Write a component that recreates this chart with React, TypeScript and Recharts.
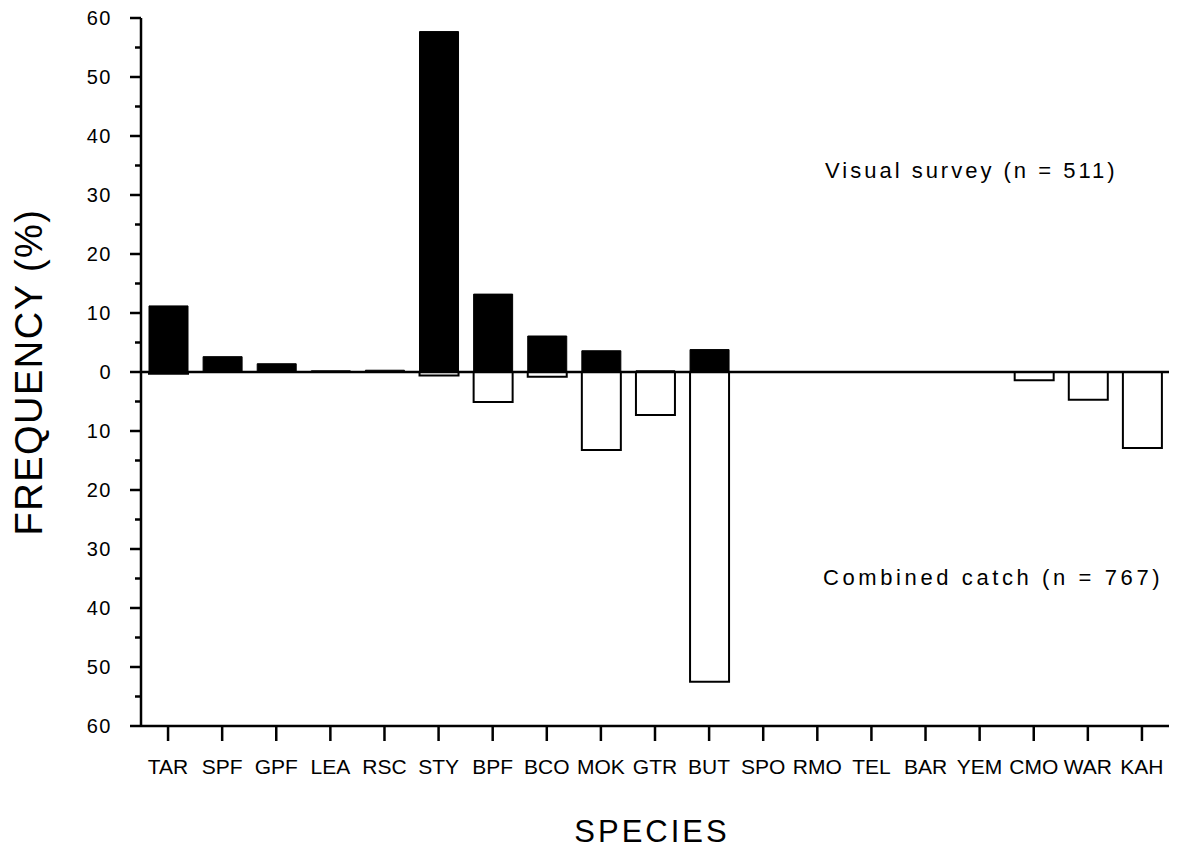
import { BarChart, Bar, XAxis, YAxis, ReferenceLine, Customized } from "recharts";

// species codes along the x axis
const species = [
  "TAR", "SPF", "GPF", "LEA", "RSC", "STY", "BPF", "BCO", "MOK", "GTR",
  "BUT", "SPO", "RMO", "TEL", "BAR", "YEM", "CMO", "WAR", "KAH",
];

// frequency (%) in the visual survey, drawn above zero
const visual = [11.2, 2.6, 1.4, 0.2, 0.3, 57.7, 13.2, 6.1, 3.6, 0.2, 3.8, 0, 0, 0, 0, 0, 0, 0, 0];

// frequency (%) in the combined catch, drawn below zero
const catchPct = [0.3, 0, 0, 0, 0, 0.6, 5.1, 0.8, 13.2, 7.3, 52.5, 0, 0, 0, 0, 0, 1.4, 4.7, 12.9];

const yTicks = [-60, -55, -50, -45, -40, -35, -30, -25, -20, -15, -10, -5, 0, 5, 10, 15, 20, 25, 30, 35, 40, 45, 50, 55, 60];

const FONT = "'Liberation Sans', Arial, Helvetica, sans-serif";

const data = species.map((s, i) => ({ name: s, visual: visual[i], catch: -catchPct[i] }));

function YTick(props: any) {
  const { x, y, payload } = props;
  const v = payload.value as number;
  const major = v % 10 === 0;
  return (
    <g>
      <line x1={x - (major ? 11 : 6)} x2={x} y1={y} y2={y} stroke="#000" strokeWidth={2.5} />
      {major && (
        <text x={x - 29} y={y} dy={7} textAnchor="end" fontSize={20} fontFamily={FONT} fill="#000" letterSpacing={1.5}>
          {Math.abs(v)}
        </text>
      )}
    </g>
  );
}

function Labels() {
  return (
    <g fontFamily={FONT} fill="#000">
      <text x={652} y={842} textAnchor="middle" fontSize={31} letterSpacing={3}>
        SPECIES
      </text>
      <text
        transform="translate(42 372) rotate(-90)"
        textAnchor="middle"
        fontSize={38}
        letterSpacing={1.5}
      >
        FREQUENCY (%)
      </text>
      <text x={825} y={178} fontSize={22} letterSpacing={3}>
        Visual survey (n = 511)
      </text>
      <text x={823} y={585} fontSize={22} letterSpacing={3.6}>
        Combined catch (n = 767)
      </text>
    </g>
  );
}

export default function App() {
  return (
    <div style={{ position: "absolute", left: 0, top: 0, background: "#fff" }}>
      <BarChart
        width={1177}
        height={852}
        data={data}
        stackOffset="sign"
        margin={{ top: 18, right: 8, bottom: 96, left: 0 }}
      >
        <XAxis
          dataKey="name"
          interval={0}
          height={30}
          axisLine={{ stroke: "#000", strokeWidth: 2.5 }}
          tickLine={{ stroke: "#000", strokeWidth: 2.5 }}
          tickSize={15}
          tickMargin={18}
          tick={{ fill: "#000", fontSize: 21, fontFamily: FONT }}
        />
        <YAxis
          type="number"
          domain={[-60, 60]}
          ticks={yTicks}
          interval={0}
          width={141}
          axisLine={{ stroke: "#000", strokeWidth: 2.5 }}
          tickLine={false}
          tickSize={0}
          tickMargin={0}
          tick={<YTick />}
          allowDataOverflow
        />
        <Bar dataKey="visual" stackId="a" fill="#000" stroke="#000" strokeWidth={1} barSize={39} isAnimationActive={false} />
        <Bar dataKey="catch" stackId="a" fill="#fff" stroke="#000" strokeWidth={2} barSize={39} isAnimationActive={false} />
        <ReferenceLine y={0} stroke="#000" strokeWidth={2.5} />
        <Customized component={Labels} />
      </BarChart>
    </div>
  );
}
